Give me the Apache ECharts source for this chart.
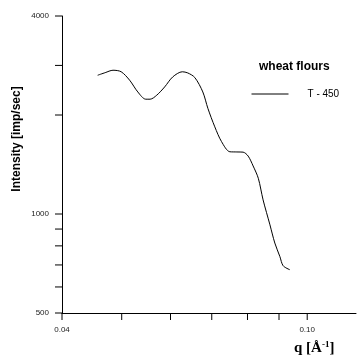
<!DOCTYPE html>
<html>
<head>
<meta charset="utf-8">
<script src="https://cdn.jsdelivr.net/npm/echarts@6/dist/echarts.min.js"></script>
<style>
html,body{margin:0;padding:0;background:#fff;}
#c{width:360px;height:361px;}
</style>
</head>
<body>
<div id="c"></div>
<script>
// Data
const qValues = [0.0457, 0.0470, 0.0484, 0.0499, 0.0515, 0.0531, 0.0547, 0.0556, 0.0570, 0.0587, 0.0605, 0.0627, 0.0640, 0.0657, 0.0677, 0.0690, 0.0708, 0.0726, 0.0749, 0.0769, 0.0787, 0.0802, 0.0817, 0.0833, 0.0848, 0.0870, 0.0886, 0.0903, 0.0914, 0.0937];
const intensity = [2642, 2690, 2736, 2707, 2552, 2350, 2234, 2234, 2298, 2434, 2611, 2707, 2685, 2600, 2350, 2094, 1841, 1660, 1546, 1544, 1542, 1500, 1400, 1284, 1104, 927, 816, 742, 696, 677];
const seriesName = 'T - 450';
const legendTitle = 'wheat flours';
const xTicks = [0.04, 0.05, 0.06, 0.07, 0.08, 0.09, 0.10];
const xTickLabels = ['0.04', '', '', '', '', '', '0.10'];
const yTicks = [500, 600, 700, 800, 900, 1000, 2000, 2830, 4000];
const yTickLabels = ['500', '', '', '', '', '1000', '', '', '4000'];
const xMin = 0.04, xMax = 0.12, yMin = 500, yMax = 4000;

const chart = echarts.init(document.getElementById('c'));
const sans = '"Liberation Sans", Arial, sans-serif';
const serif = '"Liberation Serif", "Times New Roman", serif';

chart.setOption({
  animation: false,
  backgroundColor: '#fff',
  title: {
    text: legendTitle, left: 254, top: 56,
    textStyle: {fontFamily: sans, fontSize: 12, fontWeight: 'bold', color: '#000'}
  },
  legend: {
    data: [seriesName], left: 246, top: 84,
    itemWidth: 37, itemHeight: 10,
    itemStyle: {opacity: 0, borderWidth: 0},
    lineStyle: {color: '#000', width: 1},
    textStyle: {fontFamily: sans, fontSize: 10, color: '#000', padding: [0, 0, 0, 14]}
  },
  grid: {left: 62, right: 4, top: 16, bottom: 48},
  xAxis: {
    type: 'log', logBase: 10, min: xMin, max: xMax,
    axisLine: {show: true, lineStyle: {color: '#000', width: 1}},
    axisTick: {show: false}, axisLabel: {show: false}, splitLine: {show: false}
  },
  yAxis: {
    type: 'log', logBase: 10, min: yMin, max: yMax,
    axisLine: {show: true, lineStyle: {color: '#000', width: 1}},
    axisTick: {show: false}, axisLabel: {show: false}, splitLine: {show: false}
  },
  graphic: [
    {type: 'text', x: 17, y: 139, rotation: Math.PI / 2,
     style: {text: 'Intensity [imp/sec]', align: 'center', verticalAlign: 'middle',
             font: 'bold 12px ' + sans, fill: '#000'}},
    {type: 'text', x: 294, y: 340,
     style: {text: 'q [Å{sup|-1}]', font: 'bold 15px ' + serif, fill: '#000',
             rich: {sup: {font: 'bold 9px ' + serif, verticalAlign: 'top', lineHeight: 16}}}}
  ],
  series: [
    {
      name: seriesName, type: 'line', symbol: 'none', smooth: 0.3,
      lineStyle: {color: '#000', width: 1}, itemStyle: {color: '#000'},
      data: qValues.map((q, i) => [q, intensity[i]])
    },
    {
      type: 'custom', silent: true, clip: false,
      data: yTicks.map(v => [xMin, v]),
      renderItem: function (params, api) {
        const p = api.coord([api.value(0), api.value(1)]);
        return {type: 'group', children: [
          {type: 'line', shape: {x1: p[0] - 7, y1: p[1], x2: p[0], y2: p[1]},
           style: {stroke: '#000', lineWidth: 1}},
          {type: 'text', style: {text: yTickLabels[params.dataIndex], x: p[0] - 13, y: p[1],
           align: 'right', verticalAlign: 'middle', font: '8px ' + sans, fill: '#222'}}
        ]};
      }
    },
    {
      type: 'custom', silent: true, clip: false,
      data: xTicks.map(v => [v, yMin]),
      renderItem: function (params, api) {
        const p = api.coord([api.value(0), api.value(1)]);
        return {type: 'group', children: [
          {type: 'line', shape: {x1: p[0], y1: p[1], x2: p[0], y2: p[1] + 7},
           style: {stroke: '#000', lineWidth: 1}},
          {type: 'text', style: {text: xTickLabels[params.dataIndex], x: p[0], y: p[1] + 17,
           align: 'center', verticalAlign: 'middle', font: '8px ' + sans, fill: '#222'}}
        ]};
      }
    }
  ]
});
</script>
</body>
</html>
